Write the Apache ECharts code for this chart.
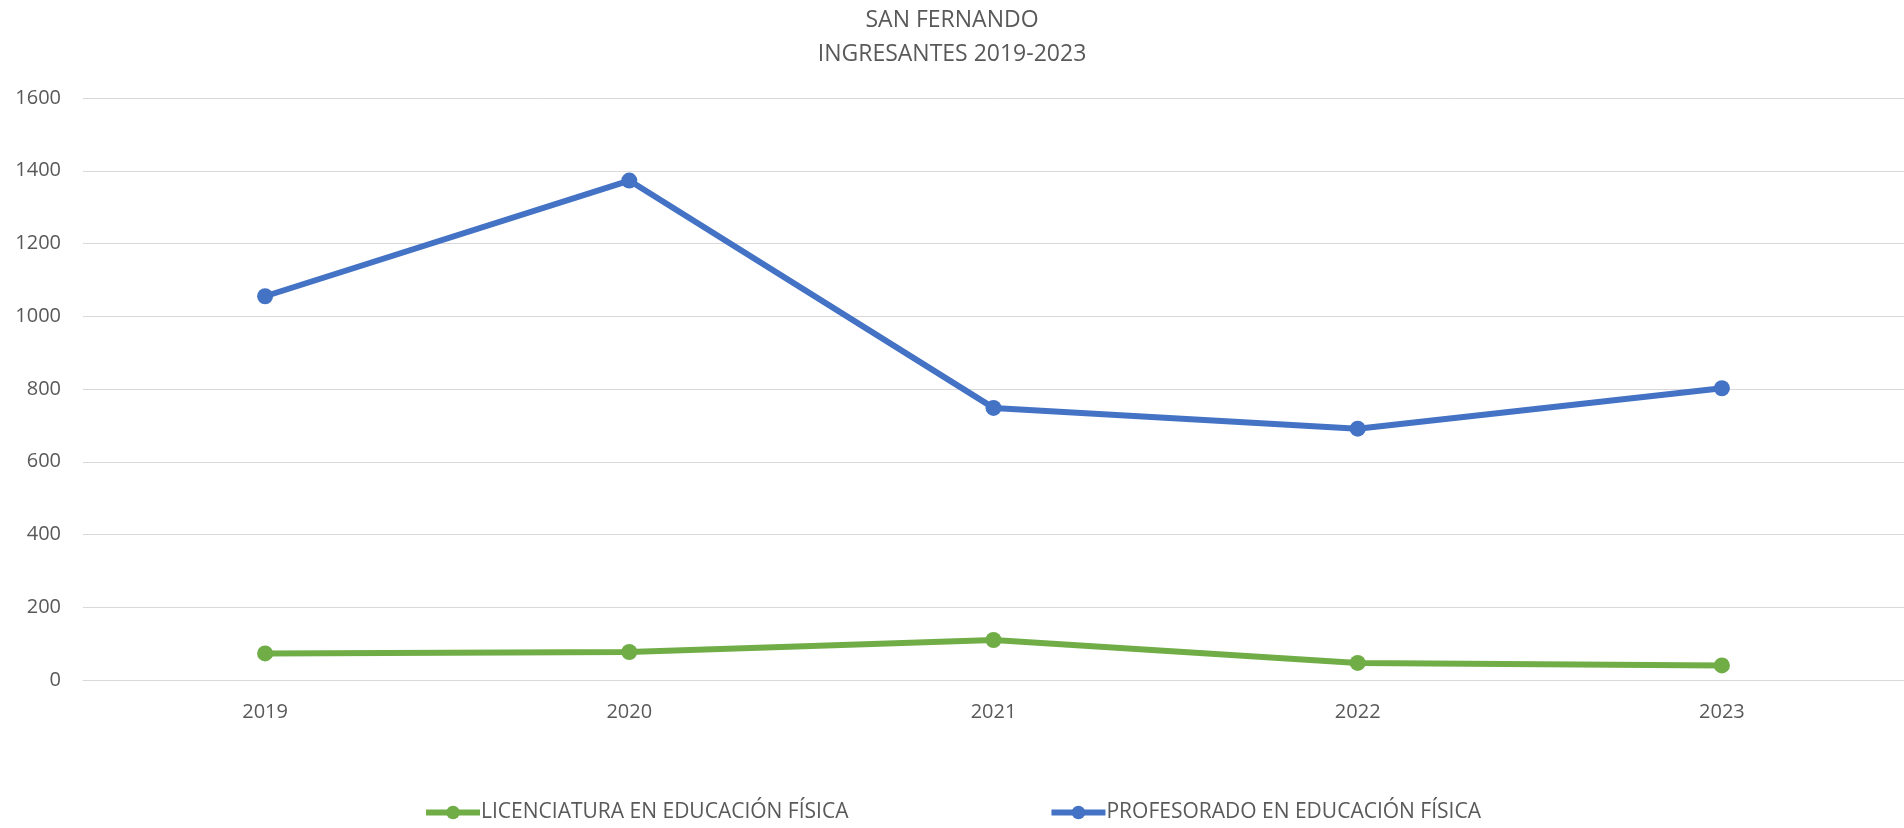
<!DOCTYPE html>
<html>
<head>
<meta charset="utf-8">
<script src="https://cdn.jsdelivr.net/npm/echarts@6/dist/echarts.min.js"></script>
<style>
  html, body { margin: 0; padding: 0; background: #fff; }
  #chart { width: 1904px; height: 828px; }
</style>
</head>
<body>
<div id="chart"></div>
<script>
var years = ['2019', '2020', '2021', '2022', '2023'];
var licenciatura = [73, 77, 110, 47, 40];
var profesorado = [1055, 1373, 748, 691, 802];
var yTicks = [0, 200, 400, 600, 800, 1000, 1200, 1400, 1600];

var txt = '#595959';
var font = 'Open Sans';

var myChart = echarts.init(document.getElementById('chart'));
var option = {
    backgroundColor: '#fff',
    title: {
        text: 'SAN FERNANDO\nINGRESANTES 2019-2023',
        left: 'center',
        top: -2,
        textStyle: {
            color: txt,
            fontFamily: font,
            fontWeight: 'normal',
            fontSize: 23,
            lineHeight: 34
        }
    },
    legend: {
        bottom: 0,
        left: 'center',
        itemGap: 200,
        itemWidth: 54,
        itemHeight: 17,
        lineStyle: { width: 6 },
        data: ['LICENCIATURA EN EDUCACIÓN FÍSICA', 'PROFESORADO EN EDUCACIÓN FÍSICA'],
        textStyle: {
            color: txt,
            fontFamily: font,
            fontSize: 21,
            padding: [0, 0, 0, -4]
        }
    },
    grid: {
        left: 83,
        right: -3,
        top: 98,
        bottom: 148,
        containLabel: false
    },
    xAxis: {
        type: 'category',
        data: years,
        boundaryGap: true,
        axisLine: { lineStyle: { color: '#d9d9d9', width: 1 } },
        axisTick: { show: false },
        axisLabel: {
            color: txt,
            fontFamily: font,
            fontSize: 20,
            margin: 22
        }
    },
    yAxis: {
        type: 'value',
        min: yTicks[0],
        max: yTicks[yTicks.length - 1],
        interval: 200,
        axisLine: { show: false },
        axisTick: { show: false },
        splitLine: { lineStyle: { color: '#d9d9d9', width: 1 } },
        axisLabel: {
            color: txt,
            fontFamily: font,
            fontSize: 20,
            margin: 22,
            formatter: function (v) { return String(v); }
        }
    },
    series: [{
        name: 'LICENCIATURA EN EDUCACIÓN FÍSICA',
        type: 'line',
        data: licenciatura,
        color: '#70ad47',
        symbol: 'circle',
        symbolSize: 16,
        lineStyle: { width: 6 },
        itemStyle: { color: '#70ad47' }
    }, {
        name: 'PROFESORADO EN EDUCACIÓN FÍSICA',
        type: 'line',
        data: profesorado,
        color: '#4472c4',
        symbol: 'circle',
        symbolSize: 16,
        lineStyle: { width: 6 },
        itemStyle: { color: '#4472c4' }
    }]
};
myChart.setOption(option);
</script>
</body>
</html>
